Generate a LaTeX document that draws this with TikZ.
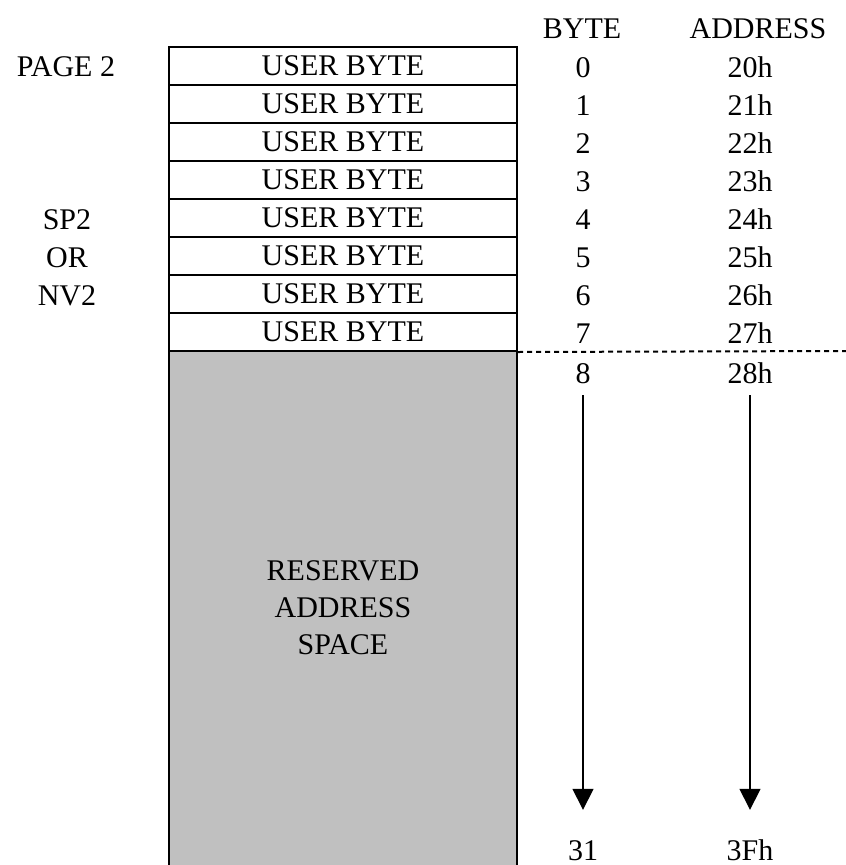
\documentclass[tikz,border=0pt]{standalone}
\usepackage{fontspec}
\setmainfont{Liberation Serif}
\usetikzlibrary{arrows.meta,shapes}
\definecolor{silver}{HTML}{C0C0C0}
\tikzstyle{userbyte}=[draw,line width=2pt,minimum width=348pt,minimum height=38pt,inner sep=0pt]
\tikzstyle{cell}=[inner sep=0pt,text height=20pt,text depth=0pt]
\tikzstyle{reserved}=[fill=silver,minimum width=348pt,minimum height=514pt,inner sep=0pt,align=center]
\tikzstyle{flow}=[draw,line width=1.5pt,-{Triangle[width=21pt,length=21pt]}]
\tikzstyle{dotline}=[draw,line width=2pt,dash pattern=on 5pt off 4pt]

\begin{document}
\begin{tikzpicture}[x=1pt,y=-1pt,font=\fontsize{30}{37}\selectfont]
    \useasboundingbox (0,0) rectangle (846,865);
    % Reserved area below the user bytes
    \node[reserved] (space) at (343,608) {RESERVED\\ADDRESS\\SPACE};
    \draw[line width=2pt] (space.north west) -- (space.south west);
    \draw[line width=2pt] (space.north east) -- (space.south east);
    % The user byte rows with byte numbers and addresses
    \foreach \i in {0,...,7} {
        \node[userbyte] (row\i) at (343,66+38*\i) {USER BYTE};
        \node[cell] (byte\i) at (583,67+38*\i) {\i};
        \node[cell] (addr\i) at (750,67+38*\i) {2\i h};
    }
    % Headings and page labels
    \node[cell] (bytehead) at (582,28) {BYTE};
    \node[cell] (addrhead) at (758,28) {ADDRESS};
    \foreach \pos/\name/\txt in {{(66,66)/page/PAGE 2}, {(67,219)/sp/SP2}, {(67,257)/or/OR}, {(67,295)/nv/NV2}}
        \node[cell] (\name) at \pos {\txt};
    % Rest of the page
    \node[cell] (byte8) at (583,373) {8};
    \node[cell] (addr8) at (750,373) {28h};
    \node[cell] (byte31) at (583,850) {31};
    \node[cell] (addr31) at (750,850) {3Fh};
    \coordinate (dashend) at (846,351);
    \path[dotline] (row7.south east) -- (dashend);
    \path[flow, shorten <=12pt, shorten >=30pt] (byte8.south) -- (byte31.north);
    \path[flow, shorten <=12pt, shorten >=30pt] (addr8.south) -- (addr31.north);
\end{tikzpicture}
\end{document}
